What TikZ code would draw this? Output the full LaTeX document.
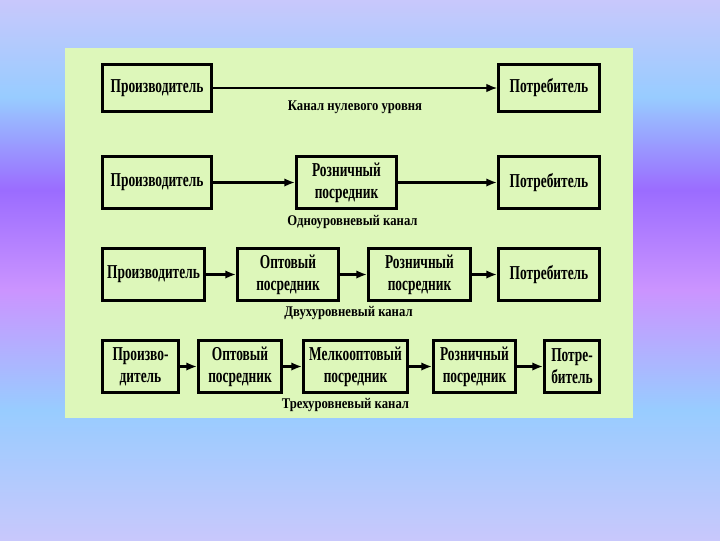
\documentclass[tikz,border=0pt]{standalone}
\usepackage{fontspec}
\setmainfont{Liberation Serif}[FakeStretch=0.68]
\newfontfamily\rotulofont{Liberation Serif}[FakeStretch=0.86]
\usetikzlibrary{arrows.meta}
\definecolor{fondoverde}{RGB}{221,247,186}
\definecolor{lavanda}{RGB}{200,200,252}
\definecolor{celeste}{RGB}{152,204,255}
\definecolor{violeta}{RGB}{155,108,255}
\definecolor{lila}{RGB}{203,148,255}
\begin{document}
\begin{tikzpicture}[
  x=0.025cm, y=-0.025cm,
  caja/.style={draw=black, line width=2.2pt, inner sep=0pt, align=center,
    minimum width=#1, minimum height=1.3cm,
    font=\bfseries\fontsize{14}{15.5}\selectfont},
  rotulo/.style={inner sep=0pt, font=\rotulofont\bfseries\fontsize{10.5}{12}\selectfont},
  flecha/.style={line width=1.5pt, -{Latex[length=7.5pt,width=6pt]}},
  fina/.style={line width=0.8pt, -{Latex[length=7.5pt,width=6pt]}}
]
\useasboundingbox (0,0) rectangle (720,540);
% fondo
\shade[top color=lavanda, bottom color=celeste] (0,0) rectangle (720,97);
\shade[top color=celeste, bottom color=violeta] (0,97) rectangle (720,190);
\shade[top color=violeta, bottom color=lila] (0,190) rectangle (720,290);
\shade[top color=lila, bottom color=celeste] (0,290) rectangle (720,410);
\shade[top color=celeste, bottom color=lavanda] (0,410) rectangle (720,540);
\fill[fondoverde] (65,48) rectangle (633,418);

% canal de nivel cero
\node[caja=2.725cm, minimum height=1.175cm] (p1) at (157,88) {Производитель};
\node[caja=2.525cm, minimum height=1.175cm] (c1) at (549,88) {Потребитель};
\draw[fina] (p1) -- (c1);
\node[rotulo] (l1) at (355,107) {Канал нулевого уровня};

% canal de un nivel
\node[caja=2.725cm] (p2) at (157,182.5) {Производитель};
\node[caja=2.5cm] (r2) at (346.5,182.5) {Розничный\\посредник};
\node[caja=2.525cm] (c2) at (549,182.5) {Потребитель};
\draw[flecha] (p2) -- (r2);
\draw[flecha] (r2) -- (c2);
\node[rotulo] (l2) at (352.5,222) {Одноуровневый канал};

% canal de dos niveles
\node[caja=2.55cm] (p3) at (153.5,274.5) {Производитель};
\node[caja=2.525cm] (o3) at (288,274.5) {Оптовый\\посредник};
\node[caja=2.55cm] (r3) at (419.5,274.5) {Розничный\\посредник};
\node[caja=2.525cm] (c3) at (549,274.5) {Потребитель};
\draw[flecha] (p3) -- (o3);
\draw[flecha] (o3) -- (r3);
\draw[flecha] (r3) -- (c3);
\node[rotulo] (l3) at (348.5,313) {Двухуровневый канал};

% canal de tres niveles
\node[caja=1.9cm] (p4) at (140.5,366.5) {Произво-\\дитель};
\node[caja=2.075cm] (o4) at (240,366.5) {Оптовый\\посредник};
\node[caja=2.6cm] (m4) at (355.5,366.5) {Мелкооптовый\\посредник};
\node[caja=2.05cm] (r4) at (474.5,366.5) {Розничный\\посредник};
\node[caja=1.375cm] (c4) at (572,366.5) {Потре-\\битель};
\draw[flecha] (p4) -- (o4);
\draw[flecha] (o4) -- (m4);
\draw[flecha] (m4) -- (r4);
\draw[flecha] (r4) -- (c4);
\node[rotulo] (l4) at (345.5,405) {Трехуровневый канал};
\end{tikzpicture}
\end{document}
